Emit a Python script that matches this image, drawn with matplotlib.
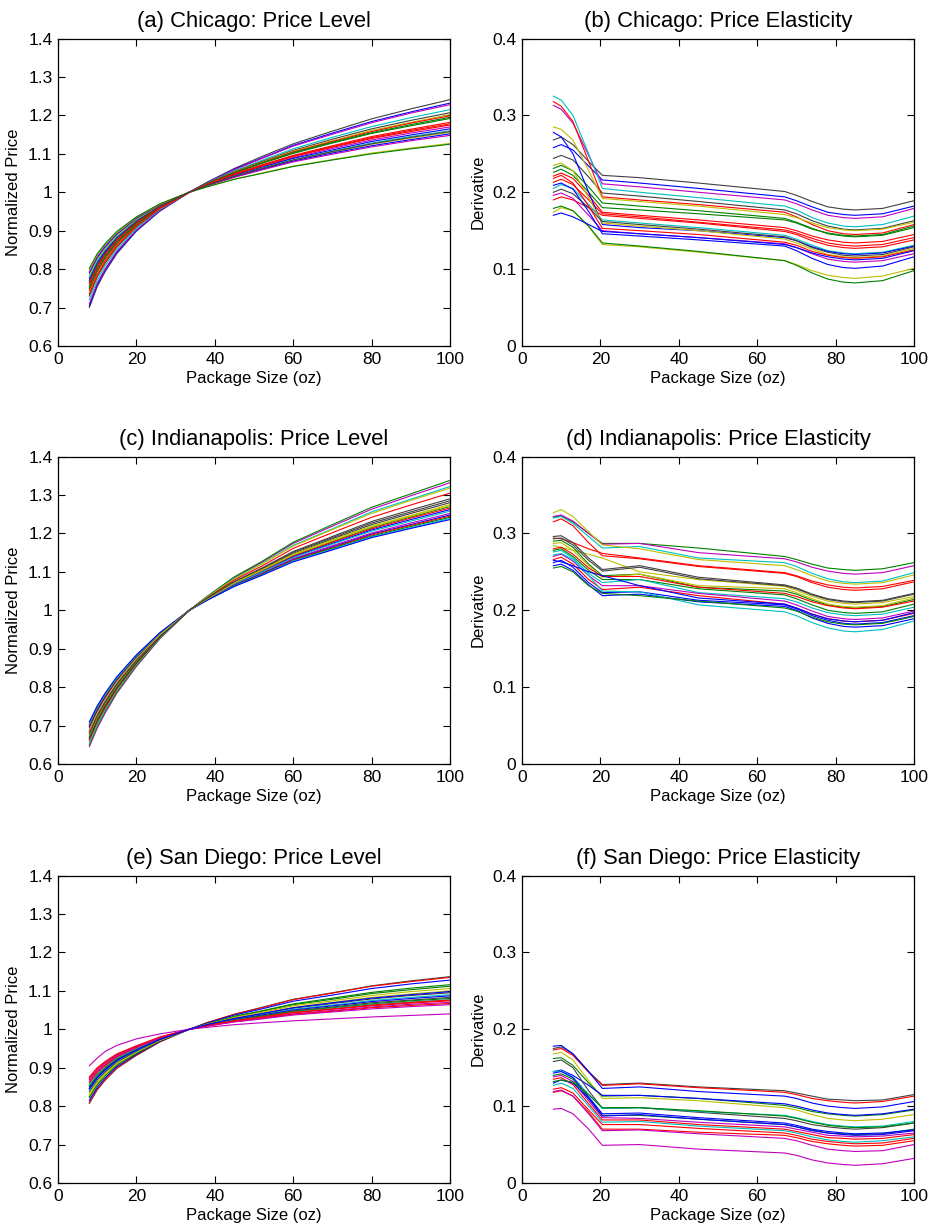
import matplotlib
matplotlib.use("Agg")
import matplotlib.pyplot as plt

plt.rcParams['font.family'] = ['Liberation Sans', 'DejaVu Sans']

size_level = [8, 10, 12, 15, 20, 26, 33.5, 38, 45, 52, 60, 70, 80, 90, 100]
size_deriv = [8, 10, 13, 17, 20.5, 30, 45, 67, 70, 74, 78, 82, 85, 92, 100]

# (a) Chicago: normalized price
chicago_level = [
    [0.700, 0.754, 0.793, 0.840, 0.899, 0.951, 1.0, 1.026, 1.062, 1.093, 1.126, 1.159, 1.191, 1.217, 1.241],
    [0.705, 0.759, 0.797, 0.843, 0.900, 0.952, 1.0, 1.025, 1.060, 1.089, 1.122, 1.154, 1.184, 1.209, 1.232],
    [0.710, 0.763, 0.800, 0.846, 0.902, 0.953, 1.0, 1.025, 1.059, 1.088, 1.120, 1.151, 1.181, 1.206, 1.228],
    [0.720, 0.771, 0.808, 0.851, 0.906, 0.955, 1.0, 1.024, 1.056, 1.083, 1.113, 1.143, 1.171, 1.194, 1.215],
    [0.730, 0.780, 0.815, 0.857, 0.910, 0.957, 1.0, 1.023, 1.054, 1.080, 1.109, 1.138, 1.165, 1.187, 1.207],
    [0.738, 0.787, 0.821, 0.862, 0.913, 0.958, 1.0, 1.022, 1.053, 1.078, 1.107, 1.134, 1.161, 1.182, 1.202],
    [0.745, 0.793, 0.826, 0.866, 0.916, 0.960, 1.0, 1.022, 1.052, 1.077, 1.105, 1.132, 1.158, 1.180, 1.199],
    [0.750, 0.797, 0.830, 0.869, 0.917, 0.961, 1.0, 1.022, 1.051, 1.076, 1.103, 1.130, 1.155, 1.176, 1.195],
    [0.755, 0.801, 0.833, 0.871, 0.919, 0.961, 1.0, 1.021, 1.050, 1.075, 1.101, 1.128, 1.153, 1.173, 1.192],
    [0.760, 0.805, 0.837, 0.874, 0.921, 0.962, 1.0, 1.020, 1.048, 1.071, 1.096, 1.121, 1.145, 1.164, 1.182],
    [0.765, 0.809, 0.840, 0.877, 0.923, 0.963, 1.0, 1.020, 1.047, 1.070, 1.094, 1.119, 1.142, 1.161, 1.178],
    [0.770, 0.814, 0.844, 0.880, 0.925, 0.964, 1.0, 1.019, 1.045, 1.066, 1.090, 1.114, 1.136, 1.154, 1.170],
    [0.775, 0.818, 0.847, 0.883, 0.926, 0.965, 1.0, 1.018, 1.044, 1.065, 1.088, 1.110, 1.132, 1.149, 1.165],
    [0.780, 0.822, 0.851, 0.885, 0.928, 0.966, 1.0, 1.018, 1.042, 1.063, 1.085, 1.107, 1.128, 1.145, 1.160],
    [0.785, 0.826, 0.854, 0.888, 0.930, 0.967, 1.0, 1.018, 1.041, 1.061, 1.083, 1.104, 1.125, 1.141, 1.156],
    [0.790, 0.830, 0.858, 0.891, 0.932, 0.968, 1.0, 1.017, 1.040, 1.060, 1.081, 1.102, 1.121, 1.137, 1.152],
    [0.795, 0.834, 0.862, 0.894, 0.934, 0.968, 1.0, 1.017, 1.039, 1.058, 1.079, 1.099, 1.118, 1.134, 1.148],
    [0.798, 0.837, 0.864, 0.895, 0.935, 0.969, 1.0, 1.014, 1.034, 1.050, 1.068, 1.085, 1.102, 1.115, 1.127],
    [0.802, 0.840, 0.866, 0.898, 0.936, 0.970, 1.0, 1.014, 1.034, 1.049, 1.067, 1.084, 1.100, 1.113, 1.125],
    [0.735, 0.784, 0.819, 0.860, 0.912, 0.958, 1.0, 1.020, 1.046, 1.068, 1.093, 1.117, 1.140, 1.158, 1.175],
    [0.768, 0.812, 0.842, 0.879, 0.924, 0.964, 1.0, 1.018, 1.042, 1.062, 1.084, 1.106, 1.126, 1.143, 1.158],
]
chicago_level_colors = list("kbmckyrggrrmbcybmygrk")

# (b) Chicago: derivative
chicago_deriv = [
    [0.268, 0.272, 0.262, 0.240, 0.222, 0.219, 0.212, 0.201, 0.196, 0.188, 0.181, 0.178, 0.177, 0.179, 0.189],
    [0.258, 0.262, 0.255, 0.234, 0.216, 0.212, 0.205, 0.194, 0.189, 0.181, 0.174, 0.171, 0.170, 0.172, 0.182],
    [0.313, 0.308, 0.290, 0.248, 0.211, 0.207, 0.200, 0.190, 0.185, 0.177, 0.170, 0.167, 0.166, 0.168, 0.179],
    [0.325, 0.320, 0.300, 0.250, 0.205, 0.200, 0.193, 0.182, 0.177, 0.167, 0.160, 0.156, 0.155, 0.158, 0.169],
    [0.244, 0.248, 0.242, 0.220, 0.199, 0.195, 0.188, 0.177, 0.172, 0.163, 0.156, 0.152, 0.151, 0.153, 0.163],
    [0.318, 0.312, 0.292, 0.240, 0.194, 0.190, 0.184, 0.174, 0.168, 0.158, 0.150, 0.146, 0.145, 0.147, 0.158],
    [0.285, 0.282, 0.268, 0.228, 0.192, 0.188, 0.182, 0.171, 0.167, 0.160, 0.154, 0.151, 0.150, 0.152, 0.161],
    [0.231, 0.235, 0.228, 0.207, 0.186, 0.182, 0.176, 0.166, 0.161, 0.153, 0.146, 0.143, 0.142, 0.144, 0.154],
    [0.226, 0.230, 0.222, 0.200, 0.180, 0.177, 0.172, 0.164, 0.160, 0.152, 0.147, 0.144, 0.143, 0.145, 0.156],
    [0.221, 0.225, 0.218, 0.196, 0.174, 0.170, 0.164, 0.154, 0.150, 0.143, 0.138, 0.135, 0.134, 0.136, 0.145],
    [0.213, 0.217, 0.210, 0.190, 0.172, 0.168, 0.161, 0.151, 0.147, 0.140, 0.134, 0.131, 0.130, 0.132, 0.141],
    [0.190, 0.194, 0.190, 0.180, 0.170, 0.166, 0.160, 0.149, 0.145, 0.137, 0.131, 0.128, 0.127, 0.129, 0.138],
    [0.205, 0.210, 0.205, 0.184, 0.164, 0.160, 0.154, 0.144, 0.139, 0.131, 0.124, 0.121, 0.120, 0.122, 0.131],
    [0.278, 0.272, 0.250, 0.200, 0.158, 0.154, 0.150, 0.141, 0.137, 0.129, 0.123, 0.120, 0.119, 0.121, 0.130],
    [0.235, 0.238, 0.228, 0.193, 0.160, 0.156, 0.150, 0.139, 0.134, 0.126, 0.119, 0.116, 0.115, 0.117, 0.127],
    [0.200, 0.204, 0.198, 0.180, 0.162, 0.158, 0.152, 0.142, 0.137, 0.128, 0.122, 0.118, 0.117, 0.119, 0.129],
    [0.218, 0.222, 0.212, 0.182, 0.153, 0.150, 0.145, 0.135, 0.131, 0.123, 0.118, 0.115, 0.114, 0.116, 0.125],
    [0.196, 0.199, 0.192, 0.170, 0.150, 0.146, 0.141, 0.133, 0.128, 0.120, 0.113, 0.110, 0.109, 0.111, 0.120],
    [0.209, 0.212, 0.204, 0.175, 0.146, 0.143, 0.138, 0.130, 0.124, 0.114, 0.106, 0.102, 0.101, 0.104, 0.116],
    [0.174, 0.180, 0.176, 0.155, 0.132, 0.129, 0.122, 0.111, 0.106, 0.098, 0.092, 0.089, 0.088, 0.091, 0.101],
    [0.179, 0.182, 0.176, 0.156, 0.134, 0.130, 0.123, 0.111, 0.105, 0.095, 0.087, 0.083, 0.082, 0.085, 0.098],
    [0.170, 0.173, 0.168, 0.158, 0.149, 0.146, 0.141, 0.132, 0.128, 0.121, 0.116, 0.113, 0.112, 0.114, 0.124],
]
chicago_deriv_colors = list("kbmckryggrrrcbykrmbygb")

# (c) Indianapolis: normalized price
indy_level = [
    [0.645, 0.693, 0.732, 0.784, 0.854, 0.926, 1.0, 1.035, 1.085, 1.125, 1.174, 1.219, 1.263, 1.298, 1.332],
    [0.650, 0.698, 0.737, 0.787, 0.856, 0.927, 1.0, 1.036, 1.087, 1.127, 1.177, 1.223, 1.268, 1.303, 1.338],
    [0.655, 0.702, 0.741, 0.791, 0.859, 0.928, 1.0, 1.034, 1.083, 1.121, 1.169, 1.212, 1.256, 1.289, 1.322],
    [0.660, 0.707, 0.745, 0.794, 0.861, 0.930, 1.0, 1.034, 1.082, 1.120, 1.167, 1.210, 1.252, 1.286, 1.318],
    [0.662, 0.709, 0.746, 0.795, 0.862, 0.930, 1.0, 1.032, 1.079, 1.115, 1.161, 1.202, 1.242, 1.274, 1.305],
    [0.668, 0.714, 0.751, 0.799, 0.865, 0.932, 1.0, 1.031, 1.074, 1.108, 1.151, 1.189, 1.227, 1.256, 1.285],
    [0.672, 0.718, 0.754, 0.802, 0.867, 0.932, 1.0, 1.030, 1.073, 1.107, 1.148, 1.186, 1.223, 1.252, 1.280],
    [0.675, 0.720, 0.757, 0.804, 0.868, 0.933, 1.0, 1.030, 1.072, 1.105, 1.146, 1.183, 1.219, 1.247, 1.275],
    [0.678, 0.723, 0.759, 0.806, 0.869, 0.934, 1.0, 1.029, 1.071, 1.103, 1.143, 1.179, 1.215, 1.243, 1.270],
    [0.682, 0.727, 0.762, 0.809, 0.871, 0.935, 1.0, 1.029, 1.070, 1.102, 1.141, 1.177, 1.212, 1.240, 1.266],
    [0.686, 0.730, 0.765, 0.811, 0.873, 0.936, 1.0, 1.028, 1.069, 1.100, 1.139, 1.174, 1.209, 1.236, 1.262],
    [0.690, 0.734, 0.768, 0.814, 0.875, 0.937, 1.0, 1.028, 1.068, 1.099, 1.137, 1.172, 1.206, 1.232, 1.258],
    [0.694, 0.737, 0.772, 0.817, 0.877, 0.938, 1.0, 1.027, 1.066, 1.096, 1.134, 1.168, 1.201, 1.227, 1.252],
    [0.697, 0.740, 0.774, 0.819, 0.878, 0.938, 1.0, 1.027, 1.065, 1.095, 1.132, 1.165, 1.198, 1.223, 1.248],
    [0.700, 0.743, 0.776, 0.820, 0.880, 0.939, 1.0, 1.027, 1.064, 1.094, 1.131, 1.163, 1.196, 1.221, 1.245],
    [0.703, 0.745, 0.779, 0.822, 0.881, 0.940, 1.0, 1.026, 1.064, 1.093, 1.129, 1.161, 1.193, 1.218, 1.242],
    [0.706, 0.748, 0.781, 0.824, 0.882, 0.941, 1.0, 1.026, 1.063, 1.092, 1.128, 1.159, 1.191, 1.215, 1.239],
    [0.710, 0.751, 0.784, 0.827, 0.884, 0.942, 1.0, 1.026, 1.062, 1.091, 1.126, 1.157, 1.189, 1.213, 1.236],
    [0.688, 0.732, 0.767, 0.813, 0.874, 0.936, 1.0, 1.029, 1.071, 1.104, 1.144, 1.181, 1.217, 1.245, 1.272],
    [0.665, 0.711, 0.749, 0.797, 0.863, 0.931, 1.0, 1.031, 1.075, 1.110, 1.153, 1.192, 1.231, 1.261, 1.290],
]
indy_level_colors = list("mgcyrkkygrbcmbrgcbyk")

# (d) Indianapolis: derivative
indy_deriv = [
    [0.321, 0.323, 0.315, 0.300, 0.287, 0.287, 0.281, 0.270, 0.266, 0.260, 0.255, 0.253, 0.252, 0.254, 0.262],
    [0.322, 0.324, 0.316, 0.300, 0.286, 0.287, 0.275, 0.267, 0.263, 0.256, 0.251, 0.248, 0.247, 0.249, 0.258],
    [0.320, 0.322, 0.313, 0.296, 0.281, 0.283, 0.268, 0.262, 0.257, 0.248, 0.241, 0.237, 0.236, 0.238, 0.249],
    [0.327, 0.331, 0.322, 0.302, 0.285, 0.280, 0.266, 0.258, 0.253, 0.245, 0.238, 0.235, 0.234, 0.236, 0.246],
    [0.315, 0.319, 0.310, 0.288, 0.271, 0.267, 0.257, 0.248, 0.244, 0.236, 0.230, 0.227, 0.226, 0.228, 0.237],
    [0.294, 0.293, 0.288, 0.280, 0.274, 0.268, 0.258, 0.249, 0.245, 0.238, 0.233, 0.230, 0.229, 0.231, 0.239],
    [0.284, 0.282, 0.278, 0.273, 0.268, 0.250, 0.240, 0.231, 0.226, 0.218, 0.212, 0.209, 0.208, 0.210, 0.218],
    [0.296, 0.297, 0.288, 0.268, 0.253, 0.258, 0.243, 0.233, 0.229, 0.221, 0.215, 0.212, 0.211, 0.213, 0.222],
    [0.293, 0.294, 0.285, 0.265, 0.251, 0.256, 0.241, 0.232, 0.228, 0.220, 0.214, 0.211, 0.210, 0.212, 0.221],
    [0.290, 0.291, 0.282, 0.260, 0.245, 0.247, 0.230, 0.225, 0.221, 0.213, 0.207, 0.204, 0.203, 0.205, 0.214],
    [0.287, 0.288, 0.278, 0.258, 0.243, 0.247, 0.232, 0.228, 0.223, 0.215, 0.208, 0.205, 0.204, 0.206, 0.216],
    [0.280, 0.282, 0.273, 0.255, 0.244, 0.244, 0.230, 0.222, 0.218, 0.211, 0.206, 0.203, 0.202, 0.204, 0.212],
    [0.278, 0.280, 0.270, 0.252, 0.240, 0.240, 0.228, 0.220, 0.215, 0.207, 0.200, 0.197, 0.196, 0.198, 0.208],
    [0.276, 0.278, 0.268, 0.248, 0.236, 0.240, 0.223, 0.215, 0.211, 0.203, 0.197, 0.194, 0.193, 0.195, 0.204],
    [0.270, 0.273, 0.264, 0.245, 0.232, 0.232, 0.222, 0.212, 0.207, 0.199, 0.192, 0.189, 0.188, 0.190, 0.199],
    [0.266, 0.269, 0.260, 0.240, 0.227, 0.230, 0.219, 0.208, 0.203, 0.195, 0.189, 0.186, 0.185, 0.187, 0.196],
    [0.262, 0.265, 0.256, 0.236, 0.223, 0.224, 0.213, 0.207, 0.202, 0.193, 0.187, 0.183, 0.182, 0.184, 0.193],
    [0.258, 0.260, 0.252, 0.233, 0.219, 0.221, 0.211, 0.205, 0.200, 0.190, 0.183, 0.179, 0.178, 0.180, 0.189],
    [0.272, 0.274, 0.266, 0.245, 0.225, 0.224, 0.207, 0.198, 0.193, 0.184, 0.177, 0.173, 0.172, 0.175, 0.186],
    [0.255, 0.257, 0.250, 0.232, 0.222, 0.219, 0.212, 0.203, 0.199, 0.191, 0.185, 0.182, 0.181, 0.183, 0.192],
    [0.265, 0.263, 0.258, 0.250, 0.245, 0.232, 0.216, 0.208, 0.203, 0.195, 0.189, 0.186, 0.185, 0.187, 0.197],
]
indy_deriv_colors = list("gmcyrrykkgyrgcmrbbcgb")

# (e) San Diego: normalized price
sd_level = [
    [0.807, 0.842, 0.867, 0.898, 0.932, 0.967, 1.0, 1.017, 1.039, 1.057, 1.078, 1.095, 1.113, 1.126, 1.137],
    [0.810, 0.845, 0.869, 0.900, 0.933, 0.968, 1.0, 1.017, 1.039, 1.056, 1.077, 1.094, 1.112, 1.124, 1.135],
    [0.815, 0.849, 0.873, 0.903, 0.935, 0.969, 1.0, 1.016, 1.037, 1.053, 1.073, 1.089, 1.106, 1.118, 1.128],
    [0.822, 0.855, 0.878, 0.907, 0.937, 0.970, 1.0, 1.014, 1.034, 1.048, 1.066, 1.081, 1.096, 1.107, 1.116],
    [0.825, 0.857, 0.880, 0.908, 0.939, 0.971, 1.0, 1.014, 1.032, 1.047, 1.064, 1.078, 1.093, 1.103, 1.112],
    [0.828, 0.860, 0.882, 0.910, 0.940, 0.971, 1.0, 1.013, 1.031, 1.044, 1.061, 1.074, 1.088, 1.098, 1.106],
    [0.833, 0.864, 0.886, 0.913, 0.942, 0.972, 1.0, 1.012, 1.029, 1.042, 1.057, 1.070, 1.083, 1.092, 1.100],
    [0.838, 0.868, 0.889, 0.915, 0.943, 0.973, 1.0, 1.012, 1.028, 1.040, 1.055, 1.067, 1.079, 1.088, 1.095],
    [0.842, 0.872, 0.892, 0.918, 0.945, 0.974, 1.0, 1.011, 1.026, 1.038, 1.052, 1.063, 1.075, 1.083, 1.090],
    [0.846, 0.875, 0.895, 0.920, 0.946, 0.974, 1.0, 1.011, 1.025, 1.037, 1.050, 1.061, 1.072, 1.080, 1.087],
    [0.850, 0.878, 0.898, 0.922, 0.948, 0.975, 1.0, 1.010, 1.024, 1.035, 1.048, 1.058, 1.069, 1.076, 1.083],
    [0.853, 0.881, 0.900, 0.924, 0.949, 0.976, 1.0, 1.010, 1.023, 1.034, 1.046, 1.056, 1.066, 1.074, 1.080],
    [0.857, 0.884, 0.903, 0.926, 0.950, 0.976, 1.0, 1.010, 1.023, 1.032, 1.044, 1.054, 1.064, 1.071, 1.077],
    [0.861, 0.887, 0.905, 0.928, 0.952, 0.977, 1.0, 1.009, 1.022, 1.031, 1.043, 1.052, 1.061, 1.068, 1.074],
    [0.865, 0.891, 0.908, 0.930, 0.953, 0.978, 1.0, 1.009, 1.021, 1.030, 1.040, 1.049, 1.058, 1.065, 1.070],
    [0.869, 0.894, 0.911, 0.932, 0.955, 0.979, 1.0, 1.008, 1.020, 1.028, 1.039, 1.047, 1.056, 1.062, 1.067],
    [0.873, 0.897, 0.914, 0.934, 0.956, 0.979, 1.0, 1.008, 1.019, 1.027, 1.037, 1.045, 1.053, 1.059, 1.064],
    [0.876, 0.900, 0.916, 0.936, 0.957, 0.980, 1.0, 1.010, 1.022, 1.032, 1.044, 1.053, 1.063, 1.070, 1.076],
    [0.905, 0.925, 0.942, 0.958, 0.975, 0.988, 1.0, 1.005, 1.012, 1.017, 1.022, 1.027, 1.032, 1.036, 1.040],
    [0.845, 0.874, 0.894, 0.919, 0.946, 0.974, 1.0, 1.012, 1.028, 1.041, 1.056, 1.069, 1.081, 1.090, 1.098],
]
sd_level_colors = list("krbggyykcbkgcrmrmrmb")

# (f) San Diego: derivative
sd_deriv = [
    [0.175, 0.177, 0.168, 0.145, 0.128, 0.130, 0.125, 0.120, 0.117, 0.113, 0.109, 0.108, 0.107, 0.108, 0.115],
    [0.173, 0.175, 0.166, 0.144, 0.127, 0.129, 0.124, 0.118, 0.115, 0.110, 0.107, 0.105, 0.104, 0.106, 0.113],
    [0.178, 0.179, 0.168, 0.145, 0.123, 0.125, 0.119, 0.113, 0.110, 0.104, 0.100, 0.098, 0.097, 0.099, 0.106],
    [0.168, 0.170, 0.160, 0.133, 0.110, 0.111, 0.107, 0.098, 0.095, 0.089, 0.084, 0.082, 0.081, 0.083, 0.089],
    [0.162, 0.163, 0.153, 0.130, 0.113, 0.114, 0.110, 0.101, 0.098, 0.093, 0.090, 0.088, 0.087, 0.089, 0.095],
    [0.145, 0.147, 0.140, 0.127, 0.114, 0.114, 0.110, 0.103, 0.100, 0.095, 0.091, 0.089, 0.088, 0.090, 0.096],
    [0.158, 0.160, 0.150, 0.120, 0.097, 0.098, 0.092, 0.084, 0.081, 0.076, 0.073, 0.071, 0.070, 0.072, 0.078],
    [0.145, 0.146, 0.138, 0.115, 0.097, 0.098, 0.093, 0.088, 0.085, 0.080, 0.076, 0.074, 0.073, 0.074, 0.080],
    [0.140, 0.142, 0.135, 0.110, 0.088, 0.088, 0.083, 0.076, 0.073, 0.069, 0.065, 0.064, 0.063, 0.064, 0.070],
    [0.143, 0.145, 0.137, 0.112, 0.090, 0.091, 0.085, 0.078, 0.075, 0.070, 0.067, 0.065, 0.064, 0.065, 0.069],
    [0.138, 0.140, 0.132, 0.107, 0.085, 0.084, 0.079, 0.073, 0.070, 0.066, 0.062, 0.061, 0.060, 0.061, 0.065],
    [0.135, 0.137, 0.128, 0.103, 0.082, 0.082, 0.076, 0.070, 0.067, 0.063, 0.059, 0.058, 0.057, 0.058, 0.063],
    [0.127, 0.130, 0.123, 0.100, 0.079, 0.080, 0.074, 0.068, 0.065, 0.060, 0.056, 0.054, 0.053, 0.055, 0.060],
    [0.122, 0.124, 0.117, 0.095, 0.076, 0.076, 0.071, 0.065, 0.062, 0.057, 0.054, 0.052, 0.051, 0.052, 0.058],
    [0.118, 0.120, 0.113, 0.092, 0.070, 0.070, 0.066, 0.062, 0.059, 0.054, 0.051, 0.049, 0.048, 0.049, 0.055],
    [0.119, 0.121, 0.113, 0.090, 0.068, 0.069, 0.064, 0.058, 0.055, 0.049, 0.044, 0.042, 0.041, 0.042, 0.050],
    [0.096, 0.097, 0.090, 0.070, 0.049, 0.050, 0.044, 0.039, 0.036, 0.030, 0.026, 0.024, 0.023, 0.025, 0.032],
    [0.130, 0.134, 0.130, 0.110, 0.087, 0.089, 0.083, 0.076, 0.073, 0.068, 0.065, 0.063, 0.062, 0.063, 0.068],
    [0.132, 0.134, 0.131, 0.115, 0.098, 0.098, 0.094, 0.087, 0.084, 0.079, 0.075, 0.073, 0.072, 0.073, 0.078],
]
sd_deriv_colors = list("krbygbkcgbmrcrrmmbg")

level_ticks = [0.6, 0.7, 0.8, 0.9, 1.0, 1.1, 1.2, 1.3, 1.4]
level_tick_labels = ["0.6", "0.7", "0.8", "0.9", "1", "1.1", "1.2", "1.3", "1.4"]
deriv_ticks = [0, 0.1, 0.2, 0.3, 0.4]
deriv_tick_labels = ["0", "0.1", "0.2", "0.3", "0.4"]
size_ticks = [0, 20, 40, 60, 80, 100]

# old matlab line colors
mcol = {'b': (0, 0, 1), 'g': (0, 0.5, 0), 'r': (1, 0, 0), 'c': (0, 0.75, 0.75),
        'm': (0.75, 0, 0.75), 'y': (0.75, 0.75, 0), 'k': (0.25, 0.25, 0.25)}

fig = plt.figure(figsize=(9.34, 12.32), dpi=100)

col_left = [0.0621, 0.5589]
row_bottom = [0.7192, 0.3799, 0.0398]
ax_w, ax_h = 0.4197, 0.2495

panels = [
    ("(a) Chicago: Price Level", chicago_level, chicago_level_colors, "level"),
    ("(b) Chicago: Price Elasticity", chicago_deriv, chicago_deriv_colors, "deriv"),
    ("(c) Indianapolis: Price Level", indy_level, indy_level_colors, "level"),
    ("(d) Indianapolis: Price Elasticity", indy_deriv, indy_deriv_colors, "deriv"),
    ("(e) San Diego: Price Level", sd_level, sd_level_colors, "level"),
    ("(f) San Diego: Price Elasticity", sd_deriv, sd_deriv_colors, "deriv"),
]

for i, (title, rows, colors, kind) in enumerate(panels):
    ax = fig.add_axes([col_left[i % 2], row_bottom[i // 2], ax_w, ax_h])
    xs = size_level if kind == "level" else size_deriv
    for c, vals in zip(colors, rows):
        ax.plot(xs, vals, color=mcol[c], lw=0.8)
    ax.set_xlim(0, 100)
    ax.set_xticks(size_ticks)
    if kind == "level":
        ax.set_ylim(0.6, 1.4)
        ax.set_yticks(level_ticks)
        ax.set_yticklabels(level_tick_labels)
        ax.set_ylabel("Normalized Price", fontsize=12, labelpad=5)
    else:
        ax.set_ylim(0, 0.4)
        ax.set_yticks(deriv_ticks)
        ax.set_yticklabels(deriv_tick_labels)
        ax.set_ylabel("Derivative", fontsize=12, labelpad=5)
    ax.set_xlabel("Package Size (oz)", fontsize=12, labelpad=3)
    ax.set_title(title, fontsize=15.8, pad=8)
    ax.tick_params(direction='in', top=True, right=True, length=5, width=0.8,
                   labelsize=12.5, pad=4)
    for s in ax.spines.values():
        s.set_linewidth(0.9)

fig.savefig("out.png", dpi=100)
